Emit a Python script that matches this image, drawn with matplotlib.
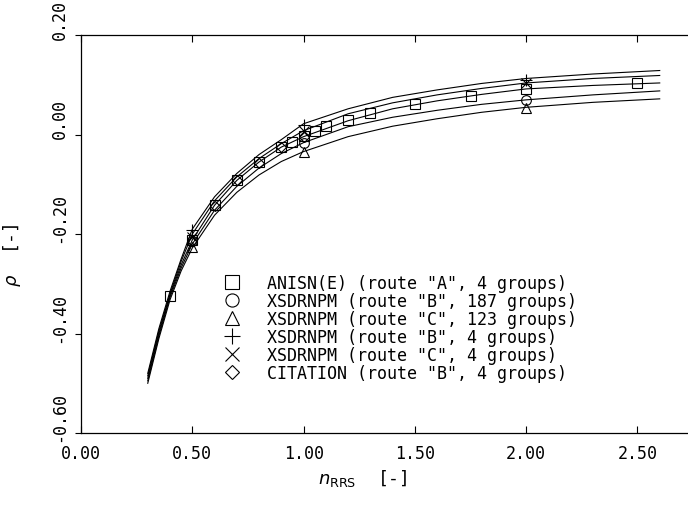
import matplotlib
matplotlib.use('Agg')
import matplotlib.pyplot as plt
from matplotlib.transforms import ScaledTranslation

# calculated curves
curve_x = [0.30, 0.35, 0.40, 0.45, 0.50, 0.60, 0.70, 0.80, 0.90, 1.00, 1.20, 1.40, 1.60, 1.80, 2.00, 2.30, 2.60]
curve_a = [-0.480, -0.390, -0.315, -0.250, -0.190, -0.125, -0.078, -0.040, -0.010, 0.022, 0.052, 0.075, 0.090, 0.103, 0.113, 0.122, 0.129]
curve_b = [-0.485, -0.395, -0.320, -0.255, -0.200, -0.133, -0.085, -0.048, -0.018, 0.008, 0.042, 0.064, 0.080, 0.093, 0.104, 0.113, 0.119]
curve_c = [-0.490, -0.400, -0.323, -0.262, -0.212, -0.142, -0.092, -0.055, -0.025, -0.004, 0.028, 0.052, 0.068, 0.081, 0.092, 0.099, 0.104]
curve_d = [-0.495, -0.405, -0.327, -0.268, -0.220, -0.152, -0.104, -0.067, -0.038, -0.016, 0.016, 0.035, 0.049, 0.061, 0.070, 0.080, 0.088]
curve_e = [-0.500, -0.410, -0.332, -0.274, -0.228, -0.162, -0.116, -0.081, -0.054, -0.034, -0.004, 0.017, 0.032, 0.045, 0.055, 0.065, 0.072]

# measured points
anisn_x = [0.40, 0.50, 0.60, 0.70, 0.80, 0.90, 0.95, 1.00, 1.05, 1.10, 1.20, 1.30, 1.50, 1.75, 2.00, 2.50]
anisn_y = [-0.324, -0.212, -0.142, -0.091, -0.055, -0.024, -0.015, -0.003, 0.007, 0.017, 0.030, 0.043, 0.062, 0.078, 0.091, 0.104]
xsb187_x = [0.50, 1.00, 2.00]
xsb187_y = [-0.214, -0.016, 0.070]
xsc123_x = [0.50, 1.00, 2.00]
xsc123_y = [-0.226, -0.035, 0.053]
xsb4_x = [0.50, 1.00, 2.00]
xsb4_y = [-0.192, 0.020, 0.110]
xsc4_x = [0.50, 1.00, 2.00]
xsc4_y = [-0.206, 0.008, 0.103]
cit_x = [0.50, 0.60, 0.70, 0.80, 0.90, 1.00]
cit_y = [-0.214, -0.144, -0.092, -0.056, -0.025, -0.004]

labels = ['ANISN(E) (route "A", 4 groups)',
          'XSDRNPM (route "B", 187 groups)',
          'XSDRNPM (route "C", 123 groups)',
          'XSDRNPM (route "B", 4 groups)',
          'XSDRNPM (route "C", 4 groups)',
          'CITATION (route "B", 4 groups)']

plt.rcParams['font.family'] = ['DejaVu Sans Mono']
fig = plt.figure(figsize=(6.88, 5.10), dpi=100)
ax = fig.add_axes([0.1177, 0.149, 0.8823, 0.78])

for cy in [curve_a, curve_b, curve_c, curve_d, curve_e]:
    ax.plot(curve_x, cy, color='black', lw=0.8)

mk = dict(linestyle='none', color='black', markerfacecolor='none', markeredgewidth=0.8)
ax.plot(anisn_x, anisn_y, marker='s', markersize=7, label=labels[0], **mk)
ax.plot(xsb187_x, xsb187_y, marker='o', markersize=7, label=labels[1], **mk)
ax.plot(xsc123_x, xsc123_y, marker='^', markersize=7, label=labels[2], **mk)
ax.plot(xsb4_x, xsb4_y, marker='+', markersize=9, label=labels[3], **mk)
ax.plot(xsc4_x, xsc4_y, marker='x', markersize=7, label=labels[4], **mk)
ax.plot(cit_x, cit_y, marker='D', markersize=5.5, label=labels[5], **mk)

ax.set_xlim(0, 2.727)
ax.set_ylim(-0.6, 0.2)
ax.set_xticks([0, 0.5, 1.0, 1.5, 2.0, 2.5])
ax.set_xticklabels(['0.00', '0.50', '1.00', '1.50', '2.00', '2.50'], fontsize=12)
ax.set_yticks([-0.6, -0.4, -0.2, 0.0, 0.2])
ax.set_yticklabels(['-0.60', '-0.40', '-0.20', '0.00', '0.20'], fontsize=12,
                   rotation=90, va='center')
ax.tick_params(axis='x', direction='in', length=5, top=True, width=0.8, pad=8)
ax.tick_params(axis='y', direction='out', length=4, width=0.8, pad=5)
# shift the rotated y tick labels up a little, like the original plot
up = ScaledTranslation(0, 12 / 72, fig.dpi_scale_trans)
for lbl in ax.get_yticklabels():
    lbl.set_transform(lbl.get_transform() + up)
ax.spines['right'].set_visible(False)
for s in ['left', 'bottom', 'top']:
    ax.spines[s].set_linewidth(0.9)

ax.set_xlabel(r'$n_{\mathrm{RRS}}$  [-]', fontsize=13)
ax.xaxis.set_label_coords(0.465, -0.085)
ax.set_ylabel(r'$\rho$  [-]', fontsize=13)
ax.yaxis.set_label_coords(-0.095, 0.45)

ax.legend(loc='upper left', bbox_to_anchor=(0.224, 0.42), frameon=False,
          fontsize=12, markerscale=1.35, handlelength=0.8, handletextpad=1.7,
          labelspacing=0.0, borderpad=0)

fig.savefig('out.png', dpi=100)
